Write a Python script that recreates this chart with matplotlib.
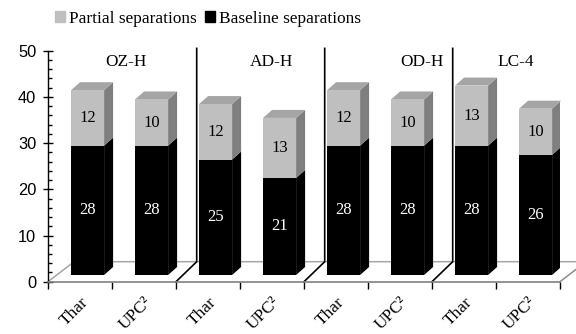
import matplotlib
matplotlib.use('Agg')
import matplotlib.pyplot as plt
from matplotlib.patches import Polygon, Patch

# Separation counts per column / method
groups = ['OZ-H', 'AD-H', 'OD-H', 'LC-4']
methods = ['Thar', 'UPC²']
baseline = [28, 28, 25, 21, 28, 28, 28, 26]
partial = [12, 10, 12, 13, 12, 10, 13, 10]

serif = ['Liberation Serif', 'DejaVu Serif']
plt.rcParams['font.family'] = serif

W, H = 576, 334
fig = plt.figure(figsize=(W / 100, H / 100), dpi=100)

# axes box in pixels: origin at (48, 281.7), top tick (50) at y=50.7
x0_px, y0_px, w_px, h_px = 48, 281.7, 512, 231
ax = fig.add_axes([x0_px / W, (H - y0_px) / H, w_px / W, h_px / H])

n = len(baseline)
ax.set_xlim(0, n)
ax.set_ylim(0, 50)

# pixel -> data unit helpers
ux = w_px / n
uy = h_px / 50.0

def px(dx, dy):
    return dx / ux, dy / uy

# floor (back edge and side diagonals)
fdx, fdy = px(26, 20)
floor_col = '#a6a6a6'
ax.plot([0, fdx, n + fdx * 2], [0, fdy, fdy], color=floor_col, lw=1.1,
        clip_on=False, zorder=1)
ax.plot([n, n + fdx * 2], [0, fdy * 2], color='#8c8c8c', lw=1.1,
        clip_on=False, zorder=1)

# bars with simple 3d faces
bw = 33 / ux
bsx, bsy = px(7.6, 6.7)
ddx, ddy = px(9, 8)
front_grey, side_grey, top_grey = '#bfbfbf', '#7f7f7f', '#a5a5a5'

centers = [i + 0.5 + bsx for i in range(n)]
ax.bar(centers, baseline, width=bw, bottom=bsy, color='black', zorder=3,
       linewidth=0)
ax.bar(centers, partial, width=bw, bottom=[b + bsy for b in baseline],
       color=front_grey, zorder=3, linewidth=0)

for c, b, p in zip(centers, baseline, partial):
    xl, xr = c - bw / 2, c + bw / 2
    y_b = bsy
    y_m = bsy + b
    y_t = bsy + b + p
    # black side
    ax.add_patch(Polygon([(xr, y_b), (xr + ddx, y_b + ddy), (xr + ddx, y_m + ddy),
                          (xr, y_m)], closed=True, fc='black', ec='none',
                         zorder=2))
    # grey side
    ax.add_patch(Polygon([(xr, y_m), (xr + ddx, y_m + ddy), (xr + ddx, y_t + ddy),
                          (xr, y_t)], closed=True, fc=side_grey, ec='none',
                         zorder=2))
    # top
    ax.add_patch(Polygon([(xl, y_t), (xl + ddx, y_t + ddy), (xr + ddx, y_t + ddy),
                          (xr, y_t)], closed=True, fc=top_grey, ec='none',
                         zorder=2, clip_on=False))
    ax.text(c, y_b + b / 2, str(b), color='white', ha='center', va='center',
            fontsize=12, zorder=4)
    ax.text(c, y_m + p / 2, str(p), color='black', ha='center', va='center',
            fontsize=12, zorder=4)

# group separators
sdx, sdy = px(20.7, 20)
for g in range(1, len(groups)):
    xg = g * len(methods)
    ax.plot([xg, xg + sdx, xg + sdx], [0, sdy, 50.5], color='black', lw=1.2,
            clip_on=False, zorder=2)

# group titles
group_label_x = [1.22, 3.5, 5.84, 7.31]
for gx, name in zip(group_label_x, groups):
    ax.text(gx, 47.5, name, ha='center', va='center', fontsize=12.4)

# axes styling
for s in ['top', 'right']:
    ax.spines[s].set_visible(False)
ax.spines['bottom'].set_color('#808080')
ax.spines['bottom'].set_linewidth(1.2)
ax.spines['left'].set_color('black')
ax.spines['left'].set_linewidth(1.0)

ax.set_yticks(range(0, 51, 10))
ax.set_yticks(range(0, 51, 2), minor=True)
ax.tick_params(axis='y', which='major', direction='inout', length=7, width=1,
               pad=5, labelsize=11.8)
ax.tick_params(axis='y', which='minor', direction='in', length=3, width=1)
for lab in ax.get_yticklabels():
    lab.set_family(['Liberation Sans', 'DejaVu Sans'])

ax.set_xticks(range(0, n + 1))
ax.set_xticklabels([])
ax.set_xticks([i + 0.5 for i in range(n)], minor=True)
ax.set_xticklabels(methods * len(groups), minor=True, rotation=45,
                   ha='right', va='top', rotation_mode='anchor', fontsize=12.4)
ax.tick_params(axis='x', which='major', direction='out', length=5, width=1)
ax.tick_params(axis='x', which='minor', length=0, pad=9)

handles = [Patch(color=front_grey, label='Partial separations'),
           Patch(color='black', label='Baseline separations')]
fig.legend(handles=handles, loc='center left', bbox_to_anchor=(55 / W, 1 - 19 / H),
           ncol=2, frameon=False, fontsize=12.4, handlelength=0.6,
           handleheight=0.6, handletextpad=0.2, columnspacing=0.5,
           borderpad=0, borderaxespad=0)

fig.savefig('out.png', dpi=100)
